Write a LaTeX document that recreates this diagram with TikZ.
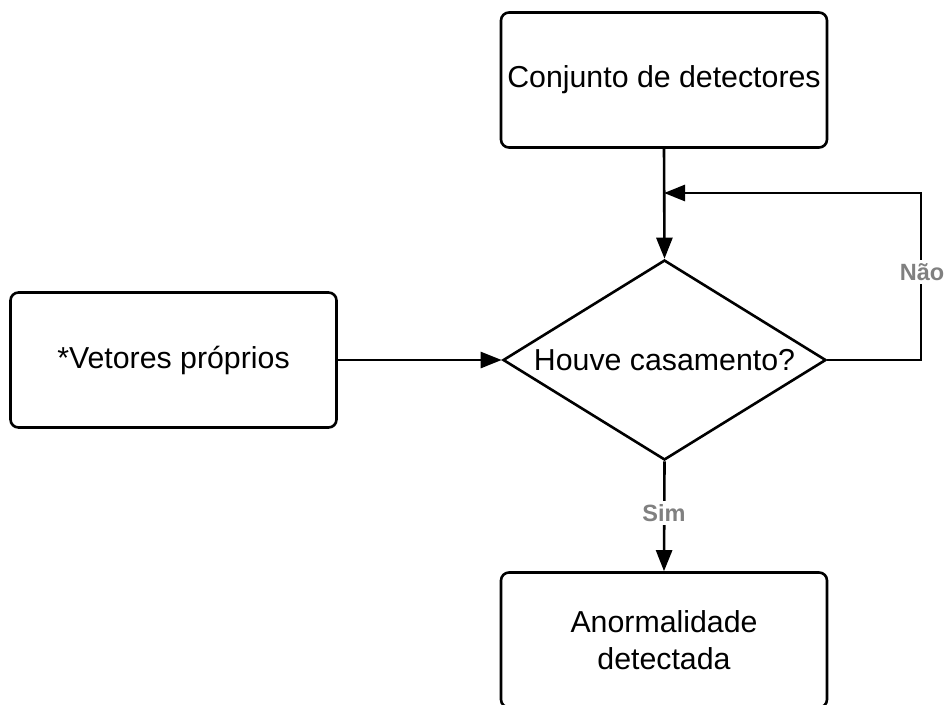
\documentclass[tikz,border=0pt]{standalone}
\usepackage{fontspec}
\setmainfont{Liberation Sans}
\usetikzlibrary{arrows.meta,shapes.geometric}
\begin{document}
\begin{tikzpicture}[x=1pt,y=-1pt,
  every node/.style={font=\fontsize{30.3}{36}\selectfont},
  procbox/.style={draw, line width=2.6pt, rounded corners=8pt, minimum width=326pt, minimum height=135pt, align=center, inner sep=0pt},
  decision/.style={draw, line width=2.6pt, diamond, minimum width=323pt, minimum height=200pt, inner sep=0pt, aspect=1.615},
  flow/.style={line width=2.6pt, -{Triangle[length=21pt,width=16pt]}},
  branch/.style={font=\fontsize{23.5}{28}\selectfont\bfseries, text=black!50, fill=white, inner sep=3pt}]
\useasboundingbox (0,0) rectangle (944,704);
\begin{scope}
\clip (0,0) rectangle (944,704);
\node[procbox] (det) at (664,80) {Conjunto de detectores};
\node[procbox] (vec) at (173.5,360) {*Vetores próprios};
\node[decision] (match) at (664.5,360) {Houve casamento?};
\node[procbox] (anom) at (664,640) {Anormalidade\\[1pt]detectada};
\coordinate (loopR) at (921,360);
\coordinate (loopT) at (921,193);
\coordinate (loopIn) at (664,193);
\draw[flow] (det.south) -- (match.north);
\draw[flow] (vec.east) -- (match.west);
\draw[flow] (match.east) -- (loopR) -- (loopT) -- (loopIn);
\draw[flow] (match.south) -- (anom.north);
\node[branch] at (922,272) {Não};
\node[branch] at (664,513) {Sim};
\end{scope}
\end{tikzpicture}
\end{document}
